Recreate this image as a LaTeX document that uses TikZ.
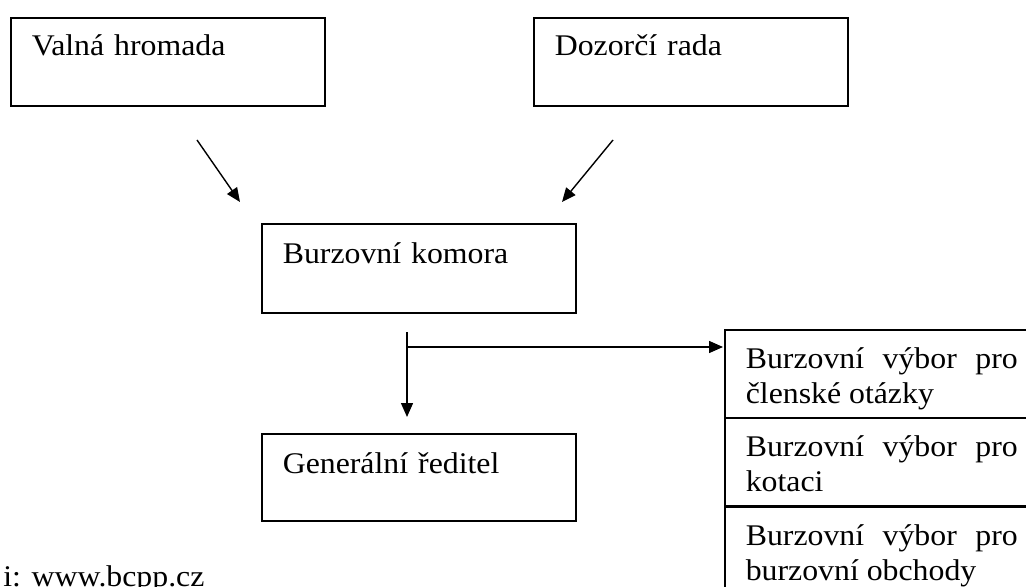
\documentclass[tikz,border=0pt]{standalone}
\usepackage{fontspec}
\setmainfont{Liberation Serif}[FakeStretch=1.06]
\usetikzlibrary{arrows.meta}
\tikzset{
  box/.style={draw, line width=0.8pt, rectangle, anchor=north west, inner xsep=10.5pt, inner ysep=0pt,
    text width=136pt, align=left, font=\fontsize{15}{17.5}\selectfont},
  vybor/.style={box, align=justify, text height=19.5pt, text depth=24.5pt},
  sipka/.style={-{Triangle[length=7pt,width=6pt]}, line width=0.7pt}
}
\begin{document}
\begin{tikzpicture}[x=0.5pt,y=-0.5pt]
  \useasboundingbox (0,0) rectangle (1026,587);
  \node[box, text height=19pt, text depth=25pt] (valna) at (10,17) {Valná hromada};
  \node[box, text height=19pt, text depth=25pt] (dozor) at (533,17) {Dozorčí rada};
  \node[box, text height=20pt, text depth=24.5pt] (komora) at (261,223) {Burzovní komora};
  \node[box, text height=20pt, text depth=23.5pt] (reditel) at (261,433) {Generální ředitel};
  \foreach \i/\y/\lbl in {1/329/{členské otázky}, 2/417/{kotaci}, 3/506/{burzovní obchody}} {
    \node[vybor] (vybor\i) at (724,\y) {Burzovní výbor pro\linebreak \lbl};
  }
  \node[anchor=base west, inner sep=0pt, font=\fontsize{15}{17.5}\selectfont] (zdroj) at (3,586) {i: www.bcpp.cz};
  \coordinate (vStart) at (197,140);
  \coordinate (vEnd) at (240,202);
  \coordinate (dStart) at (613,140);
  \coordinate (dEnd) at (562,202);
  \coordinate (kStart) at (407,332);
  \coordinate (odbocka) at (407,347);
  \coordinate (gEnd) at (407,417);
  \coordinate (vyborEnd) at (723,347);
  \draw[sipka] (vStart) -- (vEnd);
  \draw[sipka] (dStart) -- (dEnd);
  \draw[sipka] (kStart) -- (gEnd);
  \draw[sipka] (odbocka) -- (vyborEnd);
\end{tikzpicture}
\end{document}
